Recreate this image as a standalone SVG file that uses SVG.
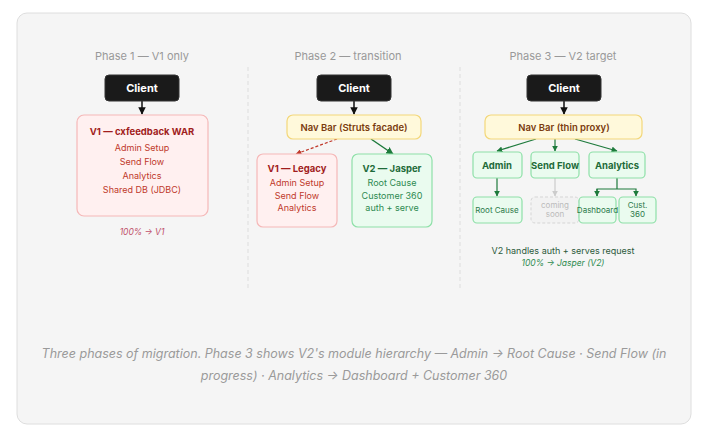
<svg xmlns="http://www.w3.org/2000/svg" width="705" height="439" viewBox="0 0 705 439">
<defs>
<marker id="ak" viewBox="0 0 10 10" refX="9" refY="5" markerWidth="5" markerHeight="5" orient="auto"><path d="M0,0L10,5L0,10z" fill="#111"/></marker>
<marker id="ag" viewBox="0 0 10 10" refX="9" refY="5" markerWidth="5" markerHeight="5" orient="auto"><path d="M0,0L10,5L0,10z" fill="#1e7a3c"/></marker>
<marker id="ar" viewBox="0 0 10 10" refX="9" refY="5" markerWidth="5" markerHeight="5" orient="auto"><path d="M0,0L10,5L0,10z" fill="#c0392b"/></marker>
<marker id="ay" viewBox="0 0 10 10" refX="9" refY="5" markerWidth="5" markerHeight="5" orient="auto"><path d="M0,0L10,5L0,10z" fill="#ccc"/></marker>
</defs>
<style>
text{font-family:Inter,"Liberation Sans",sans-serif;text-anchor:middle}
.ph{font-size:11px;fill:#999}
.cl{fill:#1a1a1a;stroke:#333;stroke-width:1}
.clt{font-size:11px;font-weight:700;fill:#fff}
.red{fill:#fff0f0;stroke:#f5b8b8;stroke-width:1.2}
.rt{font-size:9.5px;font-weight:700;fill:#a11d1d}
.rl{font-size:9px;fill:#c0392b}
.yel{fill:#fff9db;stroke:#f3d77a;stroke-width:1.2}
.yt{font-size:9.5px;font-weight:600;fill:#7a3b0e}
.grn{fill:#eafbef;stroke:#8ee0a8;stroke-width:1.2}
.gt{font-size:9.5px;font-weight:700;fill:#1e6b3a}
.gl{font-size:9px;fill:#2c8a4f}
.gs{font-size:8px;fill:#2c7a4a}
.k{stroke:#111;stroke-width:1.5;fill:none}
.g{stroke:#1e7a3c;stroke-width:1.2;fill:none}
</style>
<rect x="17" y="13" width="674" height="411" rx="10" fill="#f5f5f5" stroke="#dedede"/>
<line x1="248" y1="67" x2="248" y2="290" stroke="#ddd" stroke-dasharray="4 3"/>
<line x1="460" y1="67" x2="460" y2="290" stroke="#ddd" stroke-dasharray="4 3"/>
<text class="ph" x="142" y="60">Phase 1 — V1 only</text>
<text class="ph" x="348" y="60">Phase 2 — transition</text>
<text class="ph" x="563" y="60">Phase 3 — V2 target</text>
<g id="connectors">
<line class="k" x1="142" y1="101" x2="142" y2="114" marker-end="url(#ak)"/>
<line class="k" x1="354" y1="101" x2="354" y2="114" marker-end="url(#ak)"/>
<line class="k" x1="564" y1="101" x2="564" y2="114" marker-end="url(#ak)"/>
<line x1="337" y1="139" x2="296" y2="154" stroke="#c0392b" stroke-width="1.2" stroke-dasharray="3 2" marker-end="url(#ar)"/>
<line x1="371" y1="139" x2="393" y2="154" stroke="#1e7a3c" stroke-width="1.5" marker-end="url(#ag)"/>
<line class="g" x1="536" y1="139" x2="497" y2="151" marker-end="url(#ag)"/>
<line class="g" x1="555" y1="139" x2="555" y2="151" marker-end="url(#ag)"/>
<line class="g" x1="575" y1="139" x2="617" y2="151" marker-end="url(#ag)"/>
<line class="g" x1="497" y1="177" x2="497" y2="196" marker-end="url(#ag)"/>
<line x1="555" y1="177" x2="555" y2="196" stroke="#ccc" stroke-width="1.2" marker-end="url(#ay)"/>
<path class="g" d="M617,177V189H597V196M617,189H636V196" marker-end="url(#ag)"/>
<line class="g" x1="597" y1="189" x2="597" y2="196" marker-end="url(#ag)"/>
</g>
<g id="p1-client"><rect class="cl" x="105" y="75" width="74" height="26" rx="4"/><text class="clt" x="142" y="92">Client</text></g>
<g id="p1-v1"><rect class="red" x="77" y="115" width="131" height="101" rx="7"/>
<text class="rt" x="142" y="135">V1 — cxfeedback WAR</text>
<text class="rl" x="142" y="151">Admin Setup</text><text class="rl" x="142" y="165">Send Flow</text><text class="rl" x="142" y="179">Analytics</text><text class="rl" x="142" y="193">Shared DB (JDBC)</text></g>
<text x="142" y="235" font-size="8.5" font-style="italic" fill="#c0506a">100% → V1</text>
<g id="p2-client"><rect class="cl" x="317" y="75" width="74" height="26" rx="4"/><text class="clt" x="354" y="92">Client</text></g>
<g id="p2-nav"><rect class="yel" x="287" y="115" width="134" height="24" rx="6"/><text class="yt" x="354" y="131">Nav Bar (Struts facade)</text></g>
<g id="p2-v1"><rect class="red" x="257" y="154" width="80" height="73" rx="6"/>
<text class="rt" x="297" y="172">V1 — Legacy</text><text class="rl" x="297" y="186">Admin Setup</text><text class="rl" x="297" y="199">Send Flow</text><text class="rl" x="297" y="211">Analytics</text></g>
<g id="p2-v2"><rect class="grn" x="352" y="154" width="80" height="73" rx="6"/>
<text class="gt" x="392" y="172">V2 — Jasper</text><text class="gl" x="392" y="186">Root Cause</text><text class="gl" x="392" y="199">Customer 360</text><text class="gl" x="392" y="211">auth + serve</text></g>
<g id="p3-client"><rect class="cl" x="527" y="75" width="74" height="26" rx="4"/><text class="clt" x="564" y="92">Client</text></g>
<g id="p3-nav"><rect class="yel" x="485" y="115" width="157" height="24" rx="6"/><text class="yt" x="564" y="131">Nav Bar (thin proxy)</text></g>
<g id="p3-admin"><rect class="grn" x="473" y="152" width="49" height="26" rx="4"/><text class="gt" x="497" y="169" font-weight="600">Admin</text></g>
<g id="p3-send"><rect class="grn" x="531" y="152" width="48" height="26" rx="4"/><text class="gt" x="555" y="169" font-weight="600">Send Flow</text></g>
<g id="p3-analytics"><rect class="grn" x="589" y="152" width="56" height="26" rx="4"/><text class="gt" x="617" y="169" font-weight="600">Analytics</text></g>
<g id="p3-root"><rect class="grn" x="473" y="197" width="49" height="26" rx="4"/><text class="gs" x="497" y="213">Root Cause</text></g>
<g id="p3-soon"><rect x="531" y="197" width="48" height="26" rx="4" fill="#f2f2f2" stroke="#d5d5d5" stroke-dasharray="3 2"/><text x="555" y="208" font-size="8" fill="#bbb">coming</text><text x="555" y="217" font-size="8" fill="#bbb">soon</text></g>
<g id="p3-dash"><rect class="grn" x="579" y="197" width="37" height="26" rx="4"/><text class="gs" x="597.5" y="213">Dashboard</text></g>
<g id="p3-c360"><rect class="grn" x="619" y="197" width="37" height="26" rx="4"/><text class="gs" x="637.5" y="208">Cust.</text><text class="gs" x="637.5" y="217">360</text></g>
<text x="563" y="254" font-size="9" fill="#2c5a3c">V2 handles auth + serves request</text>
<text x="563" y="266" font-size="8.5" font-style="italic" fill="#2c8a4f">100% → Jasper (V2)</text>
<text x="354" y="358" font-size="12.5" font-style="italic" fill="#9a9a9a">Three phases of migration. Phase 3 shows V2's module hierarchy — Admin → Root Cause · Send Flow (in</text>
<text x="354" y="380" font-size="12.5" font-style="italic" fill="#9a9a9a">progress) · Analytics → Dashboard + Customer 360</text>
</svg>
